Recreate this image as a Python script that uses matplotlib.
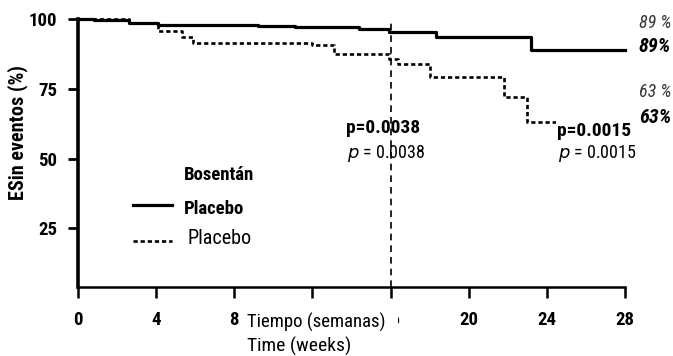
import matplotlib.pyplot as plt
from matplotlib.patches import Rectangle

plt.rcParams['font.family'] = ['Roboto Condensed', 'Liberation Sans Narrow',
                               'Liberation Sans', 'DejaVu Sans']

# Kaplan-Meier: supervivencia libre de eventos (%)
semanas_bos = [0, 0.8, 2.6, 4.1, 9.2, 11.1, 14.4, 15.9, 18.3, 23.2, 28]
sin_eventos_bos = [100, 99.5, 98.6, 97.7, 97.4, 97.0, 96.3, 95.2, 93.6, 89, 89]

semanas_pla = [0, 2.6, 4.1, 5.3, 5.9, 12.0, 13.1, 15.9, 16.4, 18.0, 21.8, 23.0, 28]
sin_eventos_pla = [100, 98.6, 95.7, 93.5, 91.4, 90.6, 87.6, 85.5, 84.0, 79.3, 72.0, 63, 63]

xticks = [0, 4, 8, 12, 16, 20, 24, 28]
xticklabels = ['0', '4', '8', '', '16', '20', '24', '28']
yticks = [25, 50, 75, 100]
corte = 16
p_16, p_28 = '0.0038', '0.0015'

fig = plt.figure(figsize=(6.73, 3.56), dpi=100)
ax = fig.add_axes([78 / 673, 69 / 356, 547 / 673, 268 / 356])

punteado = (0, (1.6, 1.1))
ax.step(semanas_bos, sin_eventos_bos, where='post', color='black', lw=2.3,
        clip_on=False, zorder=3)
ax.step(semanas_pla, sin_eventos_pla, where='post', color='black', lw=1.9,
        linestyle=punteado, clip_on=False, zorder=2)
ax.axvline(corte, color='black', lw=1.2, linestyle=(0, (4, 3)), zorder=1)

ax.set_xlim(0, 28)
ax.set_ylim(4, 100)
ax.set_xticks(xticks)
ax.set_yticks(yticks)
ax.set_xticklabels(xticklabels, fontsize=13.5, fontweight='bold')
ax.set_yticklabels([str(t) for t in yticks], fontsize=13.5, fontweight='bold')
ax.tick_params(axis='x', direction='out', length=8, width=1.8, pad=9)
ax.tick_params(axis='y', direction='out', length=7, width=2, pad=8)
for s in ['top', 'right']:
    ax.spines[s].set_visible(False)
ax.spines['left'].set_linewidth(2.6)
ax.spines['bottom'].set_linewidth(1.8)

ax.set_ylabel('ESin eventos (%)', fontsize=14.5, fontweight='bold')
ax.yaxis.set_label_coords(-0.091, 0.578)

# etiqueta del eje x en español, tapa parte del 16
fig.patches.append(Rectangle((244 / 673, 22 / 356), 154 / 673, 24 / 356,
                             transform=fig.transFigure, facecolor='white',
                             edgecolor='none', zorder=5))
fig.text(247 / 673, 1 - 322 / 356, 'Tiempo (semanas)', fontsize=13.5,
         ha='left', va='center', zorder=6)
fig.text(299 / 673, 1 - 346 / 356, 'Time (weeks)', fontsize=14,
         ha='center', va='center', zorder=6)

# leyenda
ax.text(5.4, 44, 'Bosentán', fontsize=13.5, fontweight='bold', va='center')
ax.plot([2.8, 4.8], [33.3, 33.3], color='black', lw=2.3)
ax.text(5.4, 32, 'Placebo', fontsize=13.5, fontweight='bold', va='center')
ax.plot([2.8, 4.8], [20.6, 20.6], color='black', lw=1.9, linestyle=punteado)
ax.text(5.6, 21.3, 'Placebo', fontsize=14.5, va='center')

# valores p
ax.text(15.6, 61, 'p=' + p_16, fontsize=14, fontweight='bold',
        ha='center', va='center', zorder=4)
ax.text(15.8, 51.8, '$p$ = ' + p_16, fontsize=13, ha='center', va='center')
ax.text(26.4, 60, 'p=' + p_28, fontsize=14, fontweight='bold',
        ha='center', va='center', zorder=6,
        bbox=dict(facecolor='white', edgecolor='none', pad=0.5))
ax.text(26.6, 51.8, '$p$ = ' + p_28, fontsize=13, ha='center', va='center')

# porcentajes finales
fin_bos, fin_pla = sin_eventos_bos[-1], sin_eventos_pla[-1]
x_der = (671 - 78) / 547
ax.text(x_der, 1 - 4 / 268, f'{fin_bos:.0f} %', transform=ax.transAxes,
        fontsize=13, style='italic', color='#333333', ha='right', va='center')
ax.text(x_der, 1 - 28 / 268, f'{fin_bos:.0f}%', transform=ax.transAxes,
        fontsize=14.5, style='italic', fontweight='bold', ha='right', va='center')
ax.text(x_der, 1 - 73 / 268, f'{fin_pla:.0f} %', transform=ax.transAxes,
        fontsize=13, style='italic', color='#333333', ha='right', va='center')
ax.text(x_der, 1 - 98 / 268, f'{fin_pla:.0f}%', transform=ax.transAxes,
        fontsize=14.5, style='italic', fontweight='bold', ha='right', va='center',
        zorder=3)

fig.savefig('out.png', dpi=100)
